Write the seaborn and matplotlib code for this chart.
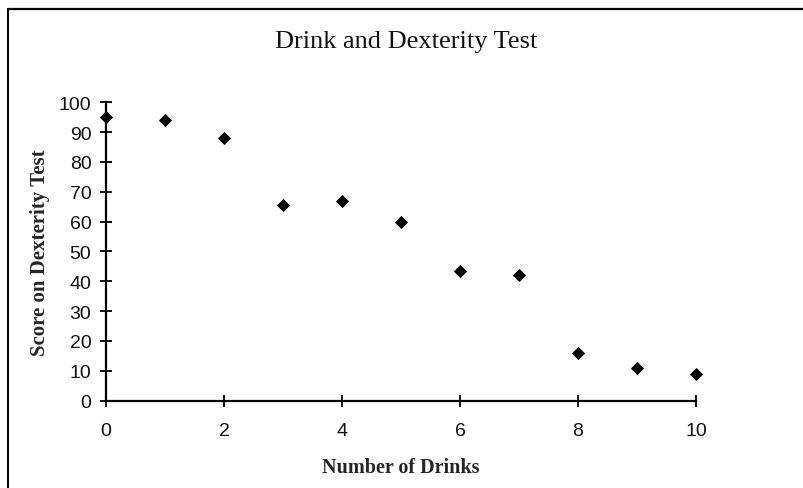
import matplotlib
matplotlib.use("Agg")
import matplotlib.pyplot as plt
from matplotlib.lines import Line2D
import seaborn as sns
import pandas as pd

drinks = [0, 1, 2, 3, 4, 5, 6, 7, 8, 9, 10]
scores = [95, 94, 88, 65.5, 67, 60, 43.5, 42, 16, 11, 9]
x_ticks = [0, 2, 4, 6, 8, 10]
y_ticks = [0, 10, 20, 30, 40, 50, 60, 70, 80, 90, 100]

sns.set_theme(style="white")
plt.rcParams['font.family'] = ['Liberation Sans', 'DejaVu Sans']

df = pd.DataFrame({"drinks": drinks, "score": scores})

fig = plt.figure(figsize=(8.04, 4.89), dpi=100)
ax = fig.add_axes([106/804, 1 - 401.5/489, (696-106)/804, (401.5-103.3)/489])

sns.scatterplot(data=df, x="drinks", y="score", ax=ax, marker="D", s=45,
                color="black", edgecolor="black", linewidth=0, clip_on=False, zorder=5)

ax.set_xlim(0, 10)
ax.set_ylim(0, 100)
ax.set_xticks(x_ticks)
ax.set_yticks(y_ticks)
ax.set_xticklabels([str(t) for t in x_ticks], fontsize=14)
ax.set_yticklabels([str(t) for t in y_ticks], fontsize=14)
ax.tick_params(axis='both', which='major', direction='inout', length=9, width=1.3,
               colors='black', labelcolor='#111111', bottom=True, left=True)
ax.tick_params(axis='x', pad=11)
ax.tick_params(axis='y', pad=6)
for s in ['top', 'right']:
    ax.spines[s].set_visible(False)
for s in ['left', 'bottom']:
    ax.spines[s].set_color('black')
    ax.spines[s].set_linewidth(1.6)
ax.grid(False)

ax.set_xlabel("Number of Drinks", family=['Liberation Serif'], fontweight='bold',
              fontsize=14.5, labelpad=13)
ax.set_ylabel("Score on Dexterity Test", family=['Liberation Serif'], fontweight='bold',
              fontsize=15, labelpad=6)

fig.text(406/804, 1 - 42/489, "Drink and Dexterity Test", family=['Liberation Serif'],
         fontsize=19, ha='center', va='center', color='#111111')

# outer frame (top and left)
fig.add_artist(Line2D([8/804, 1.0], [1 - 10/489, 1 - 10/489], transform=fig.transFigure,
                      color='black', linewidth=1.6))
fig.add_artist(Line2D([8/804, 8/804], [0, 1 - 10/489], transform=fig.transFigure,
                      color='black', linewidth=1.4))

fig.savefig("out.png", dpi=100, facecolor='white')
